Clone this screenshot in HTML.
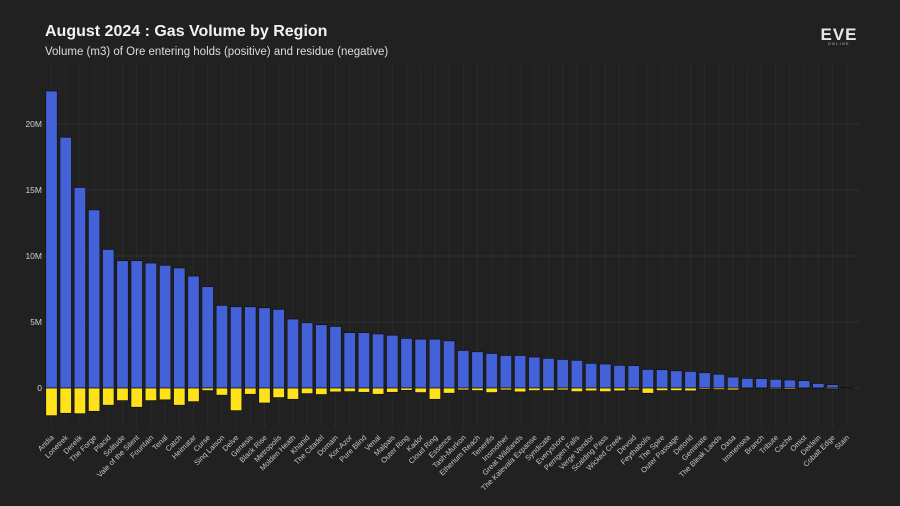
<!DOCTYPE html>
<html><head><meta charset="utf-8"><style>
html,body{margin:0;padding:0;background:#212121;}
svg{display:block;font-family:"Liberation Sans",sans-serif;}
</style></head><body>
<svg id="chart" width="900" height="506" viewBox="0 0 900 506">
<rect width="900" height="506" fill="#212121"/>
<text x="45" y="36" fill="#f2f2f2" font-size="16" font-weight="bold">August 2024 : Gas Volume by Region</text>
<text x="45" y="55" fill="#dddddd" font-size="11.5">Volume (m3) of Ore entering holds (positive) and residue (negative)</text>
<g>
<text x="839" y="40" fill="#e8e8e8" font-size="17" font-weight="bold" text-anchor="middle" letter-spacing="1">EVE</text>
<text x="839" y="45" fill="#cccccc" font-size="3.5" text-anchor="middle" letter-spacing="1.5">ONLINE</text>
</g>
<g id="grid"></g><g id="bars"></g><g id="labels"></g>
</svg>
<script>
const categories=["Aridia","Lonetrek","Derelik","The Forge","Placid","Solitude","Vale of the Silent","Fountain","Tenal","Catch","Heimatar","Curse","Sinq Laison","Delve","Genesis","Black Rise","Metropolis","Molden Heath","Khanid","The Citadel","Domain","Kor-Azor","Pure Blind","Venal","Malpais","Outer Ring","Kador","Cloud Ring","Essence","Tash-Murkon","Etherium Reach","Tenerifis","Insmother","Great Wildlands","The Kalevala Expanse","Syndicate","Everyshore","Perrigen Falls","Verge Vendor","Scalding Pass","Wicked Creek","Devoid","Feythabolis","The Spire","Outer Passage","Detorid","Geminate","The Bleak Lands","Oasa","Immensea","Branch","Tribute","Cache","Omist","Deklein","Cobalt Edge","Stain"];
const positiveValues=[22.5,19.0,15.2,13.5,10.5,9.65,9.65,9.47,9.3,9.1,8.48,7.68,6.26,6.16,6.16,6.08,5.96,5.23,4.95,4.8,4.67,4.2,4.2,4.1,4.0,3.76,3.7,3.7,3.58,2.85,2.75,2.62,2.47,2.47,2.35,2.25,2.17,2.1,1.87,1.82,1.72,1.7,1.41,1.39,1.31,1.26,1.16,1.04,0.83,0.73,0.72,0.66,0.61,0.56,0.35,0.25,0.05];
const negativeValues=[-2.1,-1.92,-1.95,-1.77,-1.31,-0.96,-1.46,-0.96,-0.9,-1.31,-1.04,-0.2,-0.55,-1.72,-0.48,-1.14,-0.73,-0.86,-0.43,-0.5,-0.3,-0.28,-0.33,-0.48,-0.33,-0.18,-0.35,-0.86,-0.4,-0.15,-0.2,-0.35,-0.15,-0.3,-0.2,-0.2,-0.15,-0.28,-0.22,-0.28,-0.22,-0.15,-0.4,-0.2,-0.2,-0.22,-0.1,-0.12,-0.15,-0.02,-0.02,-0.08,-0.1,-0.02,-0.02,-0.08,0];
const yTicks=[0,5,10,15,20];
const yTickLabels=["0","5M","10M","15M","20M"];
const NS="http://www.w3.org/2000/svg";
const x0=51.5,step=14.2,bw=11.6,zeroY=388,pxPerM=13.2;
const xScale=i=>x0+i*step;
const yScale=v=>zeroY-v*pxPerM;
function mk(tag,attrs,parent){const e=document.createElementNS(NS,tag);for(const k in attrs)e.setAttribute(k,attrs[k]);parent.appendChild(e);return e;}
const grid=document.getElementById('grid'),bars=document.getElementById('bars'),labels=document.getElementById('labels');
categories.forEach((c,i)=>{
  const l=mk('line',{x1:xScale(i),x2:xScale(i),y1:yScale(24.5),y2:428,stroke:'#2b2b2b','stroke-width':1},grid);
  
  
});
yTicks.forEach((t,i)=>{
  const l=mk('line',{x1:44,x2:860,y1:yScale(t),y2:yScale(t),stroke:'#303030','stroke-width':1},grid);
  
  
  const tx=mk('text',{x:42,y:yScale(t)+3,fill:'#cfcfcf','font-size':8.5,'text-anchor':'end'},grid);
  tx.textContent=yTickLabels[i];
  
  
});
categories.forEach((c,i)=>{
  const cx=xScale(i);
  const p=positiveValues[i],n=negativeValues[i];
  if(p>0){
    const r=mk('rect',{x:cx-bw/2,y:yScale(p),width:bw,height:yScale(0)-yScale(p),fill:'#4361d8',stroke:'#141414','stroke-width':0.8},bars);
    
    
  }
  if(n<0){
    const r=mk('rect',{x:cx-bw/2,y:yScale(0),width:bw,height:yScale(n)-yScale(0),fill:'#ffe21a',stroke:'#141414','stroke-width':0.8},bars);
    
    
  }
  const t=mk('text',{x:cx+3,y:438,fill:'#c8c8c8','font-size':7.5,'text-anchor':'end',transform:`rotate(-45 ${cx+3} 438)`},labels);
  t.textContent=c;
  
  
});
</script>
</body></html>
